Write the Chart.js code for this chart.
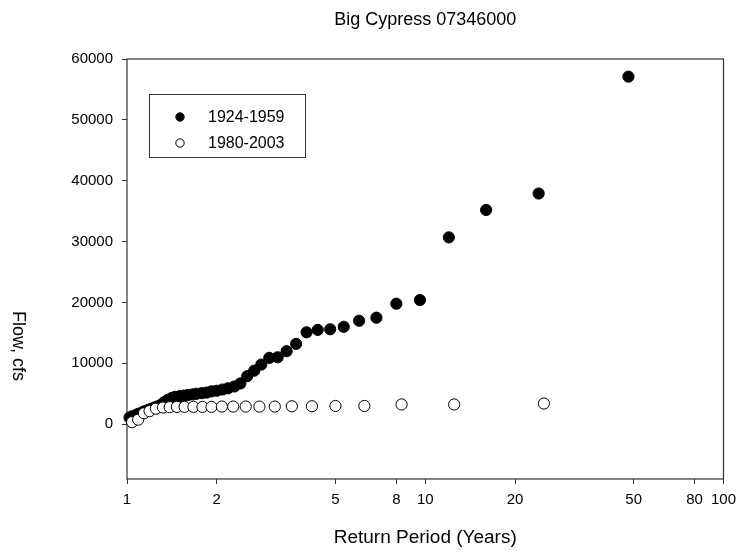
<!DOCTYPE html>
<html>
<head>
<meta charset="utf-8">
<script src="https://cdn.jsdelivr.net/npm/chart.js@4.4.1/dist/chart.umd.min.js"></script>
<style>
  body { margin: 0; background: #fff; }
</style>
</head>
<body>
<canvas id="flowChart" width="743" height="552"></canvas>
<script>
// 1924-1959 annual peaks (return period in years, flow in cfs)
const periodOld = [1.02, 1.04, 1.07, 1.09, 1.12, 1.14, 1.17, 1.2, 1.23, 1.26,
  1.3, 1.33, 1.37, 1.41, 1.45, 1.5, 1.55, 1.6, 1.66, 1.71,
  1.78, 1.85, 1.92, 2, 2.09, 2.18, 2.29, 2.4, 2.53, 2.67,
  2.82, 3, 3.2, 3.43, 3.69, 4, 4.36, 4.8, 5.33, 6,
  6.86, 8, 9.6, 12, 16, 24, 48];
const flowOld = [1100, 1300, 1500, 1700, 1900, 2100, 2300, 2500, 2700, 2900,
  3200, 3600, 4000, 4300, 4500, 4600, 4700, 4800, 4900, 5000,
  5100, 5200, 5400, 5500, 5700, 5900, 6200, 6700, 7900, 8800,
  9800, 10900, 11000, 12000, 13200, 15100, 15500, 15600, 16000, 17000,
  17500, 19800, 20400, 30700, 35200, 37900, 57100];

// 1980-2003 annual peaks
const periodNew = [1.04, 1.09, 1.14, 1.19, 1.25, 1.32, 1.39, 1.47, 1.56, 1.67,
  1.79, 1.92, 2.08, 2.27, 2.5, 2.78, 3.13, 3.57, 4.17, 5,
  6.25, 8.33, 12.5, 25];
const flowNew = [350, 750, 1800, 2150, 2550, 2750, 2800, 2850, 2850, 2850,
  2850, 2850, 2900, 2900, 2900, 2900, 2900, 2950, 2950, 3000,
  3000, 3250, 3250, 3400];

const xTicks = [1, 2, 5, 8, 10, 20, 50, 80, 100];
const yTicks = [0, 10000, 20000, 30000, 40000, 50000, 60000];

const seriesNames = ["1924-1959", "1980-2003"];
const fontFamily = "Arial, 'Liberation Sans', sans-serif";

const toPoints = (xs, ys) => xs.map((x, i) => ({ x: x, y: ys[i] }));

// frame, titles and the boxed legend
const decorations = {
  id: "decorations",
  beforeDatasetsDraw(chart) {
    const { ctx, chartArea: a } = chart;
    ctx.save();
    ctx.strokeStyle = "#333";
    ctx.lineWidth = 1.2;
    ctx.strokeRect(a.left, a.top, a.right - a.left, a.bottom - a.top);
    ctx.restore();
  },
  afterDraw(chart) {
    const { ctx, chartArea: a } = chart;
    ctx.save();
    ctx.fillStyle = "#000";
    ctx.textAlign = "center";
    ctx.textBaseline = "middle";
    ctx.font = "18px " + fontFamily;
    ctx.fillText("Big Cypress 07346000", (a.left + a.right) / 2, 20);
    ctx.font = "19px " + fontFamily;
    ctx.fillText("Return Period (Years)", (a.left + a.right) / 2, 538);

    ctx.save();
    ctx.translate(18, 346);
    ctx.rotate(Math.PI / 2);
    ctx.font = "18px " + fontFamily;
    ctx.fillText("Flow, cfs", 0, 0);
    ctx.restore();

    // legend box
    ctx.strokeStyle = "#333";
    ctx.lineWidth = 1;
    ctx.strokeRect(149.5, 94.5, 156, 63);
    ctx.font = "16px " + fontFamily;
    ctx.textAlign = "left";
    const rows = [117, 143];
    chart.data.datasets.forEach((ds, i) => {
      const y = rows[i];
      ctx.beginPath();
      ctx.arc(180, y, 4.2, 0, Math.PI * 2);
      ctx.fillStyle = ds.backgroundColor;
      ctx.fill();
      ctx.strokeStyle = "#000";
      ctx.lineWidth = 1;
      ctx.stroke();
      ctx.fillStyle = "#000";
      ctx.fillText(ds.label, 208, y + 1);
    });
    ctx.restore();
  }
};

new Chart(document.getElementById("flowChart"), {
  type: "scatter",
  data: {
    datasets: [
      {
        label: seriesNames[0],
        data: toPoints(periodOld, flowOld),
        backgroundColor: "#000",
        borderColor: "#000",
        borderWidth: 1,
        pointRadius: 5.6,
        order: 2,
        clip: false,
      },
      {
        label: seriesNames[1],
        data: toPoints(periodNew, flowNew),
        backgroundColor: "#fff",
        borderColor: "#000",
        borderWidth: 1,
        pointRadius: 5.6,
        order: 1,
        clip: false,
      },
    ],
  },
  options: {
    responsive: false,
    animation: false,
    devicePixelRatio: 1,
    layout: { padding: { top: 59, right: 16, left: 0, bottom: 0 } },
    plugins: {
      legend: { display: false },
      tooltip: { enabled: false },
    },
    scales: {
      x: {
        type: "logarithmic",
        min: 1,
        max: 100,
        afterBuildTicks: (axis) => {
          axis.ticks = xTicks.map((v) => ({ value: v }));
        },
        afterFit: (axis) => {
          axis.height = 73;
        },
        ticks: {
          autoSkip: false,
          maxRotation: 0,
          padding: 7,
          color: "#000",
          font: { family: fontFamily, size: 15 },
          callback: (v) => String(v),
        },
        grid: { drawOnChartArea: false, tickLength: 5, color: "#333" },
        border: { display: false },
      },
      y: {
        min: -9000,
        max: 60000,
        afterBuildTicks: (axis) => {
          axis.ticks = yTicks.map((v) => ({ value: v }));
        },
        afterFit: (axis) => {
          axis.width = 127;
        },
        ticks: {
          padding: 9,
          color: "#000",
          font: { family: fontFamily, size: 15 },
          callback: (v) => String(v),
        },
        grid: { drawOnChartArea: false, tickLength: 5, color: "#333" },
        border: { display: false },
      },
    },
  },
  plugins: [decorations],
});
</script>
</body>
</html>
